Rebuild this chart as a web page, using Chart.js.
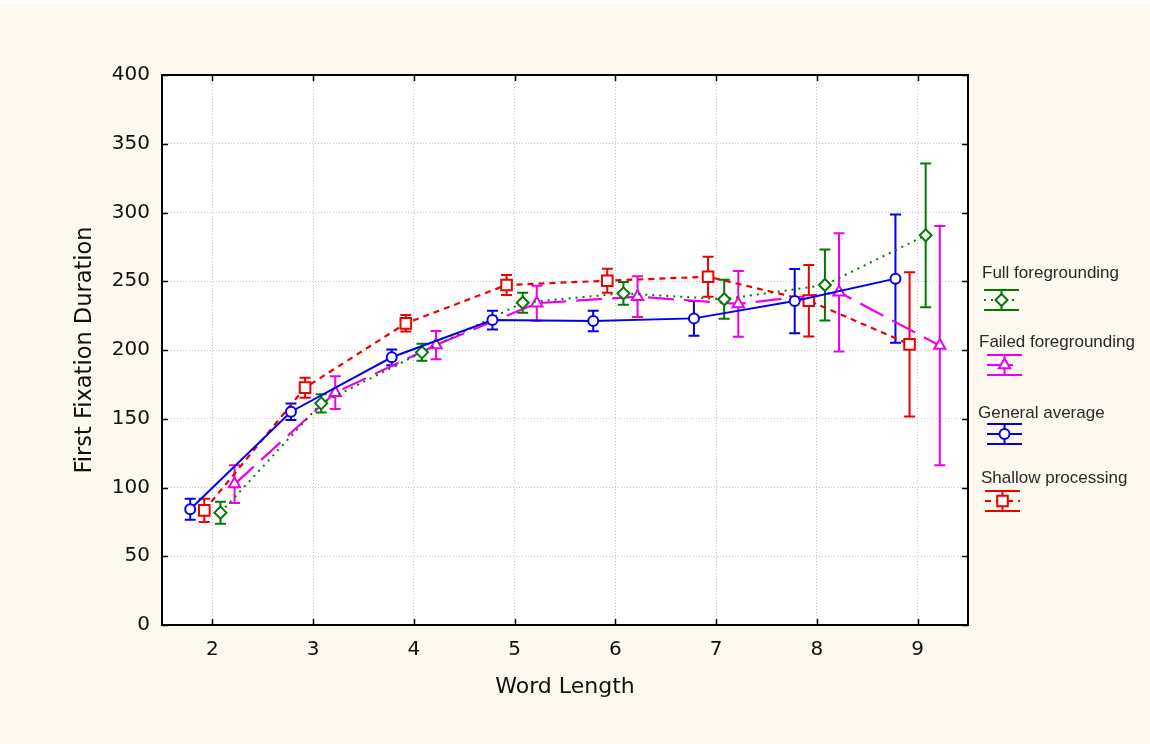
<!DOCTYPE html>
<html><head><meta charset="utf-8">
<script src="https://cdn.jsdelivr.net/npm/chart.js@4"></script>
<style>html,body{margin:0;padding:0;background:#fdf9ef;} canvas{display:block;}</style>
</head><body>
<canvas id="c" width="1150" height="744"></canvas>
<script>
// ---- data ----
const wordLengths = [2, 3, 4, 5, 6, 7, 8, 9];
const xTickValues = [2, 3, 4, 5, 6, 7, 8, 9];
const yTickValues = [0, 50, 100, 150, 200, 250, 300, 350, 400];
const xAxisTitle = 'Word Length';
const yAxisTitle = 'First Fixation Duration';

const generalName = 'General average';
const generalMean = [84.2, 155.1, 194.7, 221.8, 221.1, 223.0, 235.6, 251.9];
const generalErr  = [7.6, 6.0, 5.7, 6.8, 7.5, 12.6, 23.4, 46.7];

const shallowName = 'Shallow processing';
const shallowMean = [83.4, 172.6, 219.4, 247.3, 250.4, 253.3, 235.9, 204.1];
const shallowErr  = [8.5, 7.3, 6.0, 7.3, 8.7, 14.5, 26.0, 52.4];

const fullName = 'Full foregrounding';
const fullMean = [81.7, 161.2, 198.3, 234.4, 241.2, 236.9, 247.3, 283.4];
const fullErr  = [8.0, 6.6, 6.2, 7.3, 8.3, 14.2, 25.8, 52.3];

const failedName = 'Failed foregrounding';
const failedMean = [102.5, 169.0, 203.6, 234.0, 238.8, 233.5, 242.0, 203.2];
const failedErr  = [13.7, 11.9, 10.3, 12.7, 14.8, 23.9, 43.0, 87.0];

// ---- build ----
function pts(means, errs, offset) {
  return wordLengths.map((w, i) => ({ x: w + offset, y: means[i], err: errs[i] }));
}
const AXIS_FONT = "'DejaVu Sans', 'Liberation Sans', Arial, sans-serif";
const LEG_FONT = "'Liberation Sans', Arial, sans-serif";

function mkDs(label, means, errs, offset, color, dash, style, radius, width) {
  return {
    label, data: pts(means, errs, offset),
    borderColor: color, backgroundColor: '#ffffff',
    borderWidth: width, borderDash: dash,
    pointStyle: style, pointRadius: radius, pointBorderWidth: 2,
    pointBackgroundColor: '#ffffff', pointBorderColor: color,
    tension: 0, fill: false
  };
}
const datasets = [
  mkDs(generalName, generalMean, generalErr, -0.22, '#0000ee', [], 'circle', 5, 2),
  mkDs(shallowName, shallowMean, shallowErr, -0.08, '#ee0000', [6, 5], 'rect', 7.5, 2.2),
  mkDs(fullName, fullMean, fullErr, 0.08, '#007a00', [2, 5], 'rectRot', 6, 2),
  mkDs(failedName, failedMean, failedErr, 0.22, '#ee00ee', [26, 10], 'triangle', 6.5, 2.2)
];

const bgPlugin = {
  id: 'bg',
  beforeDraw(chart) {
    const { ctx, chartArea: a } = chart;
    ctx.save();
    ctx.fillStyle = '#fdf9ef';
    ctx.fillRect(0, 0, chart.width, chart.height);
    ctx.fillStyle = '#ffffff';
    ctx.fillRect(0, 0, chart.width, 4);
    ctx.fillRect(a.left, a.top, a.right - a.left, a.bottom - a.top);
    ctx.restore();
  }
};

const errorBarPlugin = {
  id: 'errorBars',
  beforeDatasetsDraw(chart) {
    const { ctx, scales: { x, y } } = chart;
    chart.data.datasets.forEach((ds) => {
      ctx.save();
      ctx.strokeStyle = ds.borderColor;
      ctx.lineWidth = 2;
      ctx.setLineDash([]);
      ds.data.forEach((p) => {
        const px = x.getPixelForValue(p.x);
        const t = y.getPixelForValue(p.y + p.err);
        const b = y.getPixelForValue(p.y - p.err);
        ctx.beginPath();
        ctx.moveTo(px, t); ctx.lineTo(px, b);
        ctx.moveTo(px - 5.5, t); ctx.lineTo(px + 5.5, t);
        ctx.moveTo(px - 5.5, b); ctx.lineTo(px + 5.5, b);
        ctx.stroke();
      });
      ctx.restore();
    });
  }
};

function marker(ctx, ds, cx, cy) {
  ctx.save();
  ctx.setLineDash([]);
  ctx.fillStyle = '#ffffff';
  ctx.strokeStyle = ds.borderColor;
  ctx.lineWidth = 2;
  if (Chart.helpers && Chart.helpers.drawPoint) {
    Chart.helpers.drawPoint(ctx, { pointStyle: ds.pointStyle, radius: ds.pointRadius, rotation: 0, borderWidth: 2 }, cx, cy);
  }
  ctx.restore();
}

const framePlugin = {
  id: 'frame',
  afterDraw(chart) {
    const { ctx, chartArea: a, scales: { x, y } } = chart;
    ctx.save();
    ctx.strokeStyle = '#000000';
    ctx.lineWidth = 2;
    ctx.setLineDash([]);
    ctx.strokeRect(a.left, a.top, a.right - a.left, a.bottom - a.top);
    ctx.beginPath();
    xTickValues.forEach(v => {
      const px = Math.round(x.getPixelForValue(v)) + 0.5;
      ctx.moveTo(px, a.bottom); ctx.lineTo(px, a.bottom - 6);
      ctx.moveTo(px, a.top); ctx.lineTo(px, a.top + 6);
    });
    yTickValues.forEach(v => {
      const py = Math.round(y.getPixelForValue(v)) + 0.5;
      ctx.moveTo(a.left, py); ctx.lineTo(a.left + 6, py);
      ctx.moveTo(a.right, py); ctx.lineTo(a.right - 6, py);
    });
    ctx.lineWidth = 1.5;
    ctx.stroke();
    ctx.restore();

    // legend
    const ds = chart.data.datasets;
    const entries = [
      { d: ds[2], tx: 982, ty: 278, sx: 1001.5, sy: 300 },
      { d: ds[3], tx: 979, ty: 347, sx: 1004.5, sy: 365 },
      { d: ds[0], tx: 978, ty: 418, sx: 1004.5, sy: 434 },
      { d: ds[1], tx: 981, ty: 483, sx: 1002.5, sy: 501 }
    ];
    entries.forEach(e => {
      ctx.save();
      ctx.fillStyle = '#2a2a2a';
      ctx.font = '17px ' + LEG_FONT;
      ctx.textBaseline = 'alphabetic';
      ctx.textAlign = 'left';
      ctx.fillText(e.d.label, e.tx, e.ty);
      const h = 17.5;
      ctx.strokeStyle = e.d.borderColor;
      ctx.lineWidth = 2;
      ctx.setLineDash([]);
      ctx.beginPath();
      ctx.moveTo(e.sx - h, e.sy - 10); ctx.lineTo(e.sx + h, e.sy - 10);
      ctx.moveTo(e.sx - h, e.sy + 10); ctx.lineTo(e.sx + h, e.sy + 10);
      ctx.moveTo(e.sx, e.sy - 10); ctx.lineTo(e.sx, e.sy + 10);
      ctx.stroke();
      ctx.beginPath();
      ctx.setLineDash(e.d.borderDash);
      ctx.lineWidth = e.d.borderWidth;
      ctx.moveTo(e.sx - h, e.sy); ctx.lineTo(e.sx + h, e.sy);
      ctx.stroke();
      ctx.restore();
      marker(ctx, e.d, e.sx, e.sy);
    });
  }
};

new Chart(document.getElementById('c'), {
  type: 'line',
  data: { datasets },
  plugins: [bgPlugin, errorBarPlugin, framePlugin],
  options: {
    responsive: false,
    animation: false,
    layout: { padding: { left: 0, top: 75, right: 182, bottom: 0 } },
    plugins: { legend: { display: false }, tooltip: { enabled: false } },
    scales: {
      x: {
        type: 'linear', min: 1.5, max: 9.5,
        afterBuildTicks: s => { s.ticks = xTickValues.map(v => ({ value: v })); },
        afterFit: s => { s.height = 119; },
        ticks: { color: '#111', font: { family: AXIS_FONT, size: 20 }, padding: 13, callback: v => String(v) },
        grid: { color: '#c4c4c4', lineWidth: 1, drawTicks: false },
        border: { display: false, dash: [1, 2] },
        title: { display: true, text: xAxisTitle, color: '#111', font: { family: AXIS_FONT, size: 22 }, padding: { top: 0, bottom: 44 } }
      },
      y: {
        type: 'linear', min: 0, max: 400,
        afterBuildTicks: s => { s.ticks = yTickValues.map(v => ({ value: v })); },
        afterFit: s => { s.width = 162; },
        ticks: { color: '#111', font: { family: AXIS_FONT, size: 20 }, padding: 12, callback: v => String(v) },
        grid: { color: '#c4c4c4', lineWidth: 1, drawTicks: false },
        border: { display: false, dash: [1, 2] },
        title: { display: true, text: yAxisTitle, color: '#111', font: { family: AXIS_FONT, size: 22.5 }, padding: { top: 72, bottom: 0 } }
      }
    }
  }
});
</script>
</body></html>
